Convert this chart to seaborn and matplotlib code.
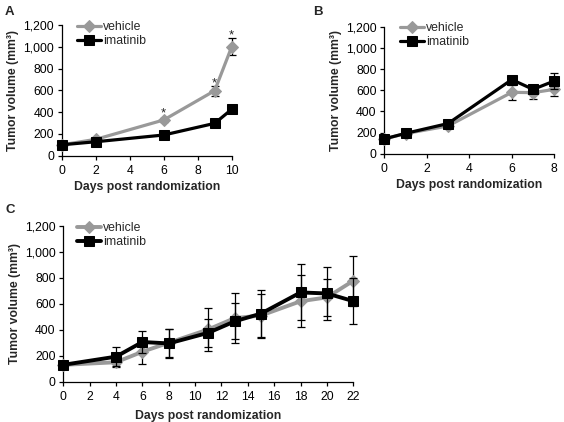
import matplotlib
matplotlib.use("Agg")
import matplotlib.pyplot as plt
import seaborn as sns
import pandas as pd
from matplotlib.ticker import FuncFormatter

# ---- data ----
days_a = [0, 2, 6, 9, 10]
veh_a = [100, 150, 328, 597, 1000]
veh_a_err = [10, 10, 15, 46, 78]
ima_a = [100, 128, 190, 297, 426]
ima_a_err = [8, 10, 12, 15, 15]
star_days_a = [6, 9, 10]

days_b = [0, 1, 3, 6, 7, 8]
veh_b = [140, 190, 262, 580, 577, 608]
veh_b_err = [15, 15, 15, 73, 57, 63]
ima_b = [140, 192, 285, 700, 608, 687]
ima_b_err = [15, 15, 15, 20, 20, 73]

days_c = [0, 4, 6, 8, 11, 13, 15, 18, 20, 22]
veh_c = [130, 150, 231, 300, 403, 490, 510, 620, 650, 778]
veh_c_err = [15, 35, 97, 110, 165, 195, 165, 200, 145, 192]
ima_c = [130, 193, 306, 295, 377, 465, 525, 688, 680, 621]
ima_c_err = [15, 72, 85, 115, 108, 138, 185, 216, 205, 177]

yticks = [0, 200, 400, 600, 800, 1000, 1200]
groups = ["vehicle", "imatinib"]

sns.set_style("ticks")
plt.rcParams['font.family'] = ['Liberation Sans', 'DejaVu Sans']
FS = 8.8
GRAY = "#999999"

fig = plt.figure(figsize=(5.64, 4.22), dpi=100)

def fig_ax(x0, x1, y0, y1):
    W, H = 564, 422
    return fig.add_axes([x0 / W, 1 - y0 / H, (x1 - x0) / W, (y0 - y1) / H])

axA = fig_ax(61.7, 231.7, 155.7, 25.0)
axB = fig_ax(384.3, 554.3, 153.7, 26.7)
axC = fig_ax(63.3, 353.3, 381.7, 226.0)

fmt = FuncFormatter(lambda v, p: f"{int(v):,}")

def draw(ax, days, veh, veh_err, ima, ima_err, xmax, xticks, legend_xy, lw=2.3, xlabelpad=3):
    dfv = pd.DataFrame({"day": days, "vol": veh, "group": "vehicle"})
    dfi = pd.DataFrame({"day": days, "vol": ima, "group": "imatinib"})
    ax.errorbar(days, veh, yerr=veh_err, fmt="none", ecolor="black", elinewidth=0.9,
                capsize=2.6, capthick=0.9, zorder=2, clip_on=False)
    sns.lineplot(data=dfv, x="day", y="vol", ax=ax, color=GRAY, marker="D",
                 markersize=6.5, markeredgecolor=GRAY, linewidth=lw,
                 label="vehicle", clip_on=False, zorder=3)
    sns.lineplot(data=dfi, x="day", y="vol", ax=ax, color="black", marker="s",
                 markersize=7.5, markeredgecolor="black", linewidth=lw,
                 label="imatinib", clip_on=False, zorder=4)
    ax.errorbar(days, ima, yerr=ima_err, fmt="none", ecolor="black", elinewidth=0.9,
                capsize=2.6, capthick=0.9, zorder=5, clip_on=False)
    ax.set_xlim(0, xmax)
    ax.set_ylim(0, 1200)
    ax.set_xticks(xticks)
    ax.set_yticks(yticks)
    ax.yaxis.set_major_formatter(fmt)
    ax.tick_params(labelsize=FS, length=3, width=0.9, colors="black")
    ax.tick_params(axis="x", pad=3.5)
    ax.tick_params(axis="y", pad=2.5)
    for s in ["top", "right"]:
        ax.spines[s].set_visible(False)
    for s in ["left", "bottom"]:
        ax.spines[s].set_linewidth(0.9)
        ax.spines[s].set_color("black")
    ax.set_xlabel("Days post randomization", fontsize=FS, fontweight="bold", labelpad=xlabelpad)
    ax.set_ylabel("Tumor volume (mm³)", fontsize=FS, fontweight="bold", labelpad=3)
    W, H = 564, 422
    ax.legend(loc="upper left", bbox_to_anchor=(legend_xy[0] / W, 1 - legend_xy[1] / H),
              bbox_transform=fig.transFigure, frameon=False, fontsize=FS,
              handlelength=2.0, handletextpad=0.1, labelspacing=0.15, borderpad=0,
              borderaxespad=0)

draw(axA, days_a, veh_a, veh_a_err, ima_a, ima_a_err, 10, [0, 2, 4, 6, 8, 10], (77, 21))
draw(axB, days_b, veh_b, veh_b_err, ima_b, ima_b_err, 8, [0, 2, 4, 6, 8], (400, 22))
draw(axC, days_c, veh_c, veh_c_err, ima_c, ima_c_err, 22, list(range(0, 23, 2)), (77, 222),
     lw=2.8, xlabelpad=5)

# significance stars (above the error bar or the marker, whichever is higher)
for d in star_days_a:
    i = days_a.index(d)
    top = max(veh_a[i] + veh_a_err[i], veh_a[i] + 38)
    axA.annotate("*", (d, top), xytext=(0, -2.5), textcoords="offset points",
                 ha="center", va="bottom", fontsize=9.5)

fig.text(5 / 564, 1 - 6 / 422, "A", fontsize=9.5, fontweight="bold", va="top")
fig.text(313 / 564, 1 - 6 / 422, "B", fontsize=9.5, fontweight="bold", va="top")
fig.text(5 / 564, 1 - 204 / 422, "C", fontsize=9.5, fontweight="bold", va="top")

fig.savefig("out.png", dpi=100)
